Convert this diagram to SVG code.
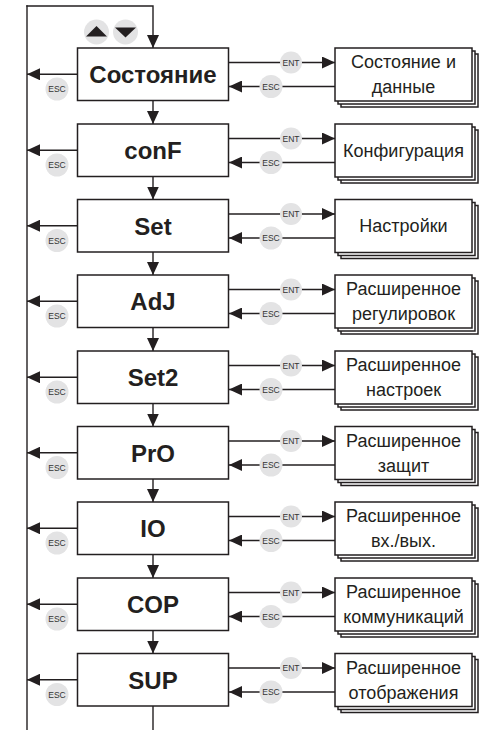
<svg xmlns="http://www.w3.org/2000/svg" width="486" height="730" viewBox="0 0 486 730">
<style>
.ln{stroke:#231f20;stroke-width:1.4;fill:none}
.box{fill:#fff;stroke:#231f20;stroke-width:1.5}
.main{font-family:"Liberation Sans",Arial,sans-serif;font-weight:bold;font-size:24px;fill:#231f20;text-anchor:middle}
.sub{font-family:"Liberation Sans",Arial,sans-serif;font-size:18px;fill:#231f20;text-anchor:middle}
.bc{fill:#e3e3e4}
.bt{font-family:"Liberation Sans",Arial,sans-serif;font-size:8.5px;fill:#333;text-anchor:middle}
</style>
<defs>
<marker id="ah" viewBox="0 0 13 12" refX="13" refY="6" markerWidth="13" markerHeight="12" markerUnits="userSpaceOnUse" orient="auto"><path d="M0,0 L13,6 L0,12 z" fill="#231f20"/></marker>
<g id="stack">
<rect class="box" x="341" y="6" width="137" height="53"/>
<rect class="box" x="338" y="3" width="137" height="53"/>
<rect class="box" x="335" y="0" width="137" height="53"/>
</g>
<g id="entesc">
<line class="ln" x1="228.5" y1="14.5" x2="335" y2="14.5" marker-end="url(#ah)"/>
<line class="ln" x1="335" y1="38.5" x2="229" y2="38.5" marker-end="url(#ah)"/>
<line class="ln" x1="77.5" y1="26.25" x2="27" y2="26.25" marker-end="url(#ah)"/>
<circle class="bc" cx="291" cy="14.5" r="11"/>
<text class="bt" x="291" y="17.5">ENT</text>
<circle class="bc" cx="271" cy="38.5" r="11.5"/>
<text class="bt" x="271" y="41.5">ESC</text>
<circle class="bc" cx="57" cy="41" r="11.5"/>
<text class="bt" x="57" y="44">ESC</text>
</g>
</defs>

<g id="connectors">
<line class="ln" x1="27" y1="5.3" x2="27" y2="730"/>
<path class="ln" d="M26.3,6 H153 V48" marker-end="url(#ah)"/>
<line class="ln" x1="153" y1="100.5" x2="153" y2="124" marker-end="url(#ah)"/>
<line class="ln" x1="153" y1="176.5" x2="153" y2="199.5" marker-end="url(#ah)"/>
<line class="ln" x1="153" y1="252" x2="153" y2="275" marker-end="url(#ah)"/>
<line class="ln" x1="153" y1="327.5" x2="153" y2="351" marker-end="url(#ah)"/>
<line class="ln" x1="153" y1="403.5" x2="153" y2="426.5" marker-end="url(#ah)"/>
<line class="ln" x1="153" y1="479" x2="153" y2="502" marker-end="url(#ah)"/>
<line class="ln" x1="153" y1="554.5" x2="153" y2="578" marker-end="url(#ah)"/>
<line class="ln" x1="153" y1="630.5" x2="153" y2="653.5" marker-end="url(#ah)"/>
<line class="ln" x1="153" y1="706" x2="153" y2="730"/>
<use href="#entesc" transform="translate(0,48)"/>
<use href="#entesc" transform="translate(0,124)"/>
<use href="#entesc" transform="translate(0,199.5)"/>
<use href="#entesc" transform="translate(0,275)"/>
<use href="#entesc" transform="translate(0,351)"/>
<use href="#entesc" transform="translate(0,426.5)"/>
<use href="#entesc" transform="translate(0,502)"/>
<use href="#entesc" transform="translate(0,578)"/>
<use href="#entesc" transform="translate(0,653.5)"/>
</g>

<g id="updown">
<circle class="bc" cx="96.5" cy="32" r="12.5"/>
<path d="M86,36.5 L107,36.5 L96.5,26 z" fill="#231f20"/>
<circle class="bc" cx="125.5" cy="32" r="12.5"/>
<path d="M115,27.5 L136,27.5 L125.5,37.5 z" fill="#231f20"/>
</g>

<g id="n0" transform="translate(0,48)">
<rect class="box" x="77.5" y="0" width="151" height="52.5"/>
<text class="main" x="153" y="35">Состояние</text>
</g>
<g id="d0" transform="translate(0,48)">
<use href="#stack"/>
<text class="sub" x="403.5" y="20">Состояние и</text>
<text class="sub" x="403.5" y="45">данные</text>
</g>

<g id="n1" transform="translate(0,124)">
<rect class="box" x="77.5" y="0" width="151" height="52.5"/>
<text class="main" x="153" y="35">conF</text>
</g>
<g id="d1" transform="translate(0,124)">
<use href="#stack"/>
<text class="sub" x="403.5" y="32.5">Конфигурация</text>
</g>

<g id="n2" transform="translate(0,199.5)">
<rect class="box" x="77.5" y="0" width="151" height="52.5"/>
<text class="main" x="153" y="35">Set</text>
</g>
<g id="d2" transform="translate(0,199.5)">
<use href="#stack"/>
<text class="sub" x="403.5" y="32.5">Настройки</text>
</g>

<g id="n3" transform="translate(0,275)">
<rect class="box" x="77.5" y="0" width="151" height="52.5"/>
<text class="main" x="153" y="35">AdJ</text>
</g>
<g id="d3" transform="translate(0,275)">
<use href="#stack"/>
<text class="sub" x="403.5" y="20">Расширенное</text>
<text class="sub" x="403.5" y="45">регулировок</text>
</g>

<g id="n4" transform="translate(0,351)">
<rect class="box" x="77.5" y="0" width="151" height="52.5"/>
<text class="main" x="153" y="35">Set2</text>
</g>
<g id="d4" transform="translate(0,351)">
<use href="#stack"/>
<text class="sub" x="403.5" y="20">Расширенное</text>
<text class="sub" x="403.5" y="45">настроек</text>
</g>

<g id="n5" transform="translate(0,426.5)">
<rect class="box" x="77.5" y="0" width="151" height="52.5"/>
<text class="main" x="153" y="35">PrO</text>
</g>
<g id="d5" transform="translate(0,426.5)">
<use href="#stack"/>
<text class="sub" x="403.5" y="20">Расширенное</text>
<text class="sub" x="403.5" y="45">защит</text>
</g>

<g id="n6" transform="translate(0,502)">
<rect class="box" x="77.5" y="0" width="151" height="52.5"/>
<text class="main" x="153" y="35">IO</text>
</g>
<g id="d6" transform="translate(0,502)">
<use href="#stack"/>
<text class="sub" x="403.5" y="20">Расширенное</text>
<text class="sub" x="403.5" y="45">вх./вых.</text>
</g>

<g id="n7" transform="translate(0,578)">
<rect class="box" x="77.5" y="0" width="151" height="52.5"/>
<text class="main" x="153" y="35">COP</text>
</g>
<g id="d7" transform="translate(0,578)">
<use href="#stack"/>
<text class="sub" x="403.5" y="20">Расширенное</text>
<text class="sub" x="403.5" y="45">коммуникаций</text>
</g>

<g id="n8" transform="translate(0,653.5)">
<rect class="box" x="77.5" y="0" width="151" height="52.5"/>
<text class="main" x="153" y="35">SUP</text>
</g>
<g id="d8" transform="translate(0,653.5)">
<use href="#stack"/>
<text class="sub" x="403.5" y="20">Расширенное</text>
<text class="sub" x="403.5" y="45">отображения</text>
</g>
</svg>
